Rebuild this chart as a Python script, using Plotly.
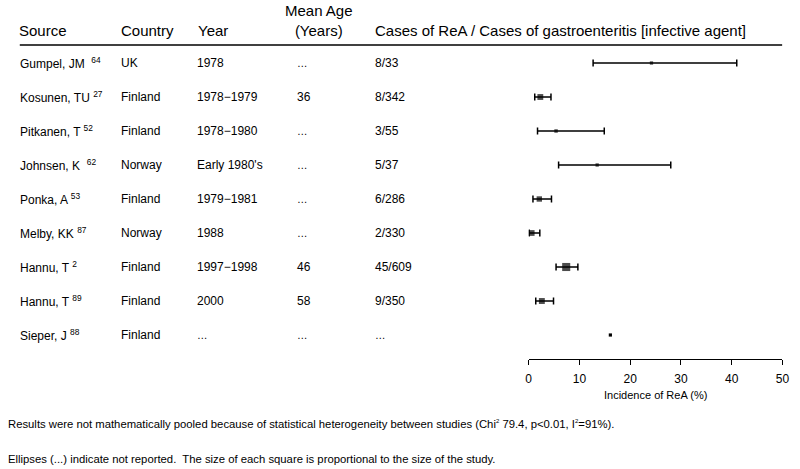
import plotly.graph_objects as go

# ---------------- data ----------------
sources = ["Gumpel, JM", "Kosunen, TU", "Pitkanen, T", "Johnsen, K", "Ponka, A",
           "Melby, KK", "Hannu, T", "Hannu, T", "Sieper, J"]
refs = ["64", "27", "52", "62", "53", "87", "2", "89", "88"]
countries = ["UK", "Finland", "Finland", "Norway", "Finland", "Norway", "Finland", "Finland", "Finland"]
years = ["1978", "1978\u22121979", "1978\u22121980", "Early 1980's", "1979\u22121981", "1988",
         "1997\u22121998", "2000", "\u2026"]
mean_age = ["\u2026", "36", "\u2026", "\u2026", "\u2026", "\u2026", "46", "58", "\u2026"]
cases_rea = [8, 8, 3, 5, 6, 2, 45, 9, None]
cases_ge = [33, 342, 55, 37, 286, 330, 609, 350, None]
incidence = [24.2, 2.3, 5.4, 13.5, 2.1, 0.6, 7.4, 2.6, 16.1]
ci_low = [12.7, 1.2, 1.75, 5.9, 0.85, 0.1, 5.4, 1.4, None]
ci_high = [41.0, 4.4, 14.9, 28.0, 4.5, 2.2, 9.7, 4.9, None]
x_ticks = [0, 10, 20, 30, 40, 50]

headers = ["Source", "Country", "Year", "Mean Age<br>(Years)",
           "Cases of ReA / Cases of gastroenteritis [infective agent]"]
x_title = "Incidence of ReA (%)"
note1 = ("Results were not mathematically pooled because of statistical heterogeneity between studies "
         "(Chi<sup><span style='font-size:6px'>2</span></sup> 79.4, p<0.01, "
         "I<sup><span style='font-size:6px'>2</span></sup>=91%).")
note2 = "Ellipses (...) indicate not reported.  The size of each square is proportional to the size of the study."

# ---------------- layout helpers ----------------
W, H = 800, 469
FONT = "Liberation Sans, Arial, sans-serif"
row0_px, row_step = 63, 34
rows = list(range(len(sources)))
PAD = 3  # annotation inner padding

def px_x(p):
    return p / W

def px_y(p):
    return 1 - p / H

fig = go.Figure()

with_ci = [i for i in rows if ci_low[i] is not None]
no_ci = [i for i in rows if ci_low[i] is None]

def msize(n):
    return 3.0 + (n / 120.0 if n else 0.0)

fig.add_trace(go.Scatter(
    x=[incidence[i] for i in with_ci], y=with_ci, mode="markers",
    marker=dict(symbol="square", size=[msize(cases_ge[i]) for i in with_ci], color="black",
                line=dict(width=0)),
    error_x=dict(type="data", symmetric=False,
                 array=[ci_high[i] - incidence[i] for i in with_ci],
                 arrayminus=[incidence[i] - ci_low[i] for i in with_ci],
                 color="black", thickness=1.5, width=3.5),
    cliponaxis=False, showlegend=False, hoverinfo="skip",
))
fig.add_trace(go.Scatter(
    x=[incidence[i] for i in no_ci], y=no_ci, mode="markers",
    marker=dict(symbol="square", size=3.2, color="black", line=dict(width=0)),
    cliponaxis=False, showlegend=False, hoverinfo="skip",
))

def cell(t):
    if t == "\u2026":
        return "<span style='font-size:10.5px'>\u2026</span>"
    return t

annotations = []
col_x = [18, 120, 197, 299, 378]
for i in rows:
    frac = "\u2026" if cases_rea[i] is None else f"{cases_rea[i]}/{cases_ge[i]}"
    gap = "  " if refs[i] in ("64", "62") else " "
    src = f"{sources[i]}{gap}<sup>{refs[i]}</sup>"
    texts = [src, countries[i], years[i], mean_age[i], frac]
    for cx, t in zip(col_x, texts):
        annotations.append(dict(
            x=px_x(cx - PAD), y=i, xref="paper", yref="y", text=cell(t), showarrow=False,
            xanchor="left", yanchor="middle", font=dict(size=12, color="black", family=FONT),
        ))

head_x = [17, 120, 198, 320, 378]
for hx, h in zip(head_x, headers):
    multi = "<br>" in h
    annotations.append(dict(
        x=px_x(hx if multi else hx - PAD), y=px_y(41), xref="paper", yref="paper", text=h,
        showarrow=False, xanchor="center" if multi else "left", yanchor="bottom",
        align="center", font=dict(size=15, color="black", family=FONT),
    ))

annotations.append(dict(x=px_x(660.8), y=px_y(395), xref="paper", yref="paper", text=x_title,
                        showarrow=False, xanchor="center", yanchor="middle",
                        font=dict(size=11, color="black", family=FONT)))
annotations.append(dict(x=px_x(6 - PAD), y=px_y(424), xref="paper", yref="paper", text=note1,
                        showarrow=False, xanchor="left", yanchor="middle",
                        font=dict(size=11.3, color="black", family=FONT)))
annotations.append(dict(x=px_x(6 - PAD), y=px_y(459), xref="paper", yref="paper", text=note2,
                        showarrow=False, xanchor="left", yanchor="middle",
                        font=dict(size=11.3, color="black", family=FONT)))

fig.update_layout(
    width=W, height=H, margin=dict(l=0, r=0, t=0, b=0),
    paper_bgcolor="white", plot_bgcolor="white",
    font=dict(family=FONT, color="black"),
    xaxis=dict(domain=[px_x(532.3), px_x(789.3)], range=[0, 50], anchor="free",
               position=px_y(359), showline=True, linecolor="black", linewidth=1.3,
               ticks="outside", ticklen=5, tickwidth=1.3, tickcolor="black",
               tickvals=x_ticks, tickfont=dict(size=12, color="black", family=FONT),
               showgrid=False, zeroline=False, ticklabelstandoff=3),
    yaxis=dict(domain=[0, 1], range=[(H - row0_px) / row_step, -row0_px / row_step],
               visible=False, showgrid=False, zeroline=False),
    annotations=annotations,
    shapes=[dict(type="line", xref="paper", yref="paper", x0=px_x(17), x1=px_x(789),
                 y0=px_y(45), y1=px_y(45), line=dict(color="black", width=1.5))],
)

fig.write_html("out.html", config={"displayModeBar": False},
               post_script="document.body.style.margin='0';")
